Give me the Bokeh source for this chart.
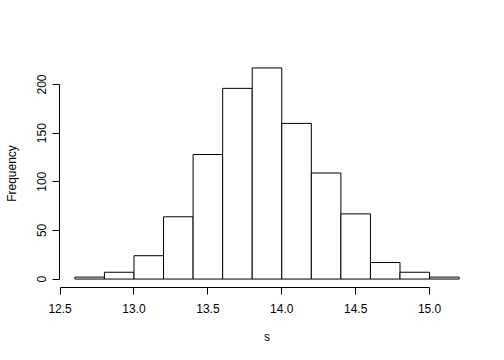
from bokeh.plotting import figure
from bokeh.models import Range1d, FixedTicker
from bokeh.embed import file_html
from bokeh.resources import INLINE

# Histogram data
breaks = [12.6, 12.8, 13.0, 13.2, 13.4, 13.6, 13.8, 14.0, 14.2, 14.4, 14.6, 14.8, 15.0, 15.2]
counts = [2, 7, 24, 64, 128, 196, 217, 160, 109, 67, 17, 7, 2]
x_ticks = [12.5, 13.0, 13.5, 14.0, 14.5, 15.0]
x_labels = ["12.5", "13.0", "13.5", "14.0", "14.5", "15.0"]
y_ticks = [0, 50, 100, 150, 200]
y_labels = ["0", "50", "100", "150", "200"]

FONT = "Liberation Sans"

p = figure(width=496, height=352, output_backend="svg", toolbar_location=None,
           x_range=Range1d(12.496, 15.304), y_range=Range1d(-8.68, 225.68),
           min_border_left=59, min_border_top=59, min_border_right=22,
           min_border_bottom=65, background_fill_color="white",
           border_fill_color="white")
p.outline_line_color = None
p.grid.visible = False

p.quad(left=breaks[:-1], right=breaks[1:], bottom=0, top=counts,
       fill_color="white", line_color="black", line_width=1)

for ax in (p.xaxis[0], p.yaxis[0]):
    ax.axis_line_color = "black"
    ax.axis_line_width = 1
    ax.major_tick_line_color = "black"
    ax.major_tick_out = 7
    ax.major_tick_in = 0
    ax.minor_tick_line_color = None
    ax.major_label_text_font = FONT
    ax.major_label_text_font_size = "12px"
    ax.major_label_text_color = "black"
    ax.axis_label_text_font = FONT
    ax.axis_label_text_font_size = "12px"
    ax.axis_label_text_font_style = "normal"
    ax.axis_label_text_color = "black"

p.xaxis.bounds = (x_ticks[0], x_ticks[-1])
p.xaxis.ticker = FixedTicker(ticks=x_ticks)
p.xaxis.major_label_overrides = {t: l for t, l in zip(x_ticks, x_labels)}
p.xaxis.axis_label = "s"
p.xaxis.major_label_standoff = 9
p.xaxis.axis_label_standoff = 14

p.yaxis.bounds = (y_ticks[0], y_ticks[-1])
p.yaxis.ticker = FixedTicker(ticks=y_ticks)
p.yaxis.major_label_overrides = {t: l for t, l in zip(y_ticks, y_labels)}
p.yaxis.major_label_orientation = "vertical"
p.yaxis.axis_label = "Frequency"
p.yaxis.major_label_standoff = 6
p.yaxis.axis_label_standoff = 16

open("out.html", "w").write(file_html(p, INLINE))
